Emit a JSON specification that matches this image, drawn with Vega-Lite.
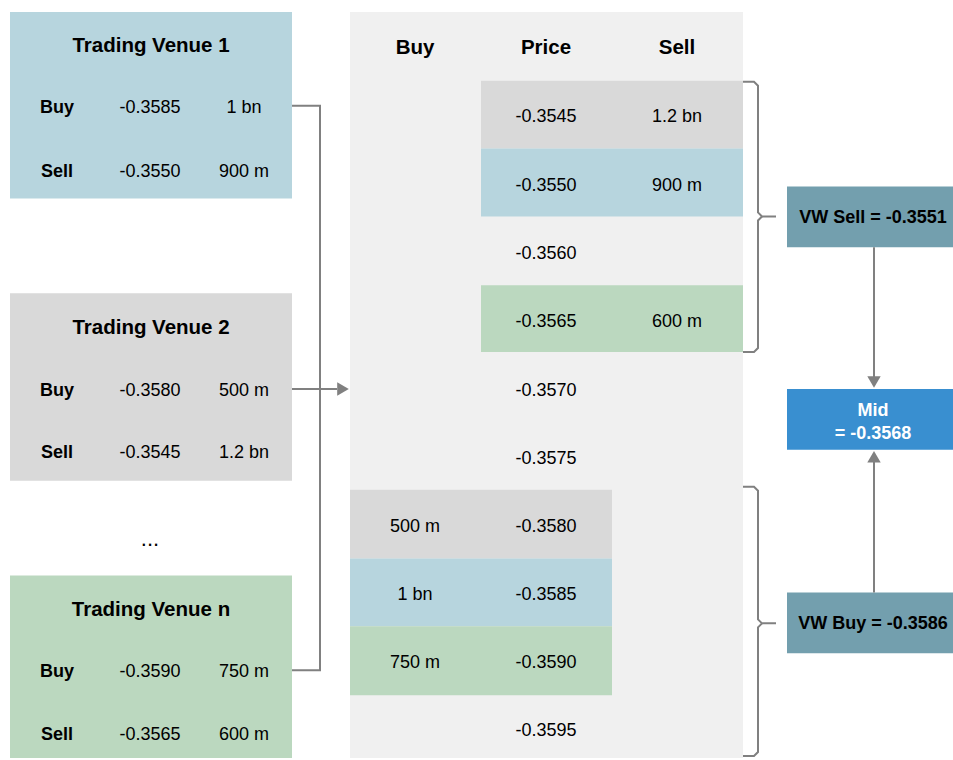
{
  "$schema": "https://vega.github.io/schema/vega-lite/v6.json",
  "width": 953,
  "height": 760,
  "padding": 0,
  "autosize": {"type": "fit", "contains": "padding"},
  "background": "white",
  "config": {"view": {"stroke": null}},
  "datasets": {
    "boxes": [
      {"x": 10, "x2": 292, "y": 12, "y2": 199, "c": "venue1"},
      {"x": 10, "x2": 292, "y": 294, "y2": 482, "c": "venue2"},
      {"x": 10, "x2": 292, "y": 577, "y2": 760, "c": "venuen"},
      {"x": 350, "x2": 743, "y": 12, "y2": 760, "c": "book"},
      {"x": 481, "x2": 743, "y": 81, "y2": 149, "c": "venue2"},
      {"x": 481, "x2": 743, "y": 149, "y2": 217, "c": "venue1"},
      {"x": 481, "x2": 743, "y": 286, "y2": 353, "c": "venuen"},
      {"x": 350, "x2": 612, "y": 491, "y2": 560, "c": "venue2"},
      {"x": 350, "x2": 612, "y": 560, "y2": 628, "c": "venue1"},
      {"x": 350, "x2": 612, "y": 628, "y2": 697, "c": "venuen"},
      {"x": 787, "x2": 953, "y": 187, "y2": 248, "c": "vw"},
      {"x": 787, "x2": 953, "y": 390, "y2": 451, "c": "mid"},
      {"x": 787, "x2": 953, "y": 594, "y2": 655, "c": "vw"}
    ],
    "paths": [
      {"p": "collect", "s": 1, "x": 292, "y": 106},
      {"p": "collect", "s": 2, "x": 320, "y": 106},
      {"p": "collect", "s": 3, "x": 320, "y": 672},
      {"p": "collect", "s": 4, "x": 292, "y": 672},
      {"p": "feed", "s": 1, "x": 292, "y": 390},
      {"p": "feed", "s": 2, "x": 337, "y": 390},
      {"p": "sellA", "s": 1, "x": 743, "y": 82},
      {"p": "sellA", "s": 2, "x": 754, "y": 82},
      {"p": "sellA", "s": 3, "x": 758, "y": 86},
      {"p": "sellA", "s": 4, "x": 758, "y": 213},
      {"p": "sellA", "s": 5, "x": 762, "y": 217},
      {"p": "sellA", "s": 6, "x": 776, "y": 217},
      {"p": "sellB", "s": 1, "x": 762, "y": 217},
      {"p": "sellB", "s": 2, "x": 758, "y": 221},
      {"p": "sellB", "s": 3, "x": 758, "y": 349},
      {"p": "sellB", "s": 4, "x": 754, "y": 353},
      {"p": "sellB", "s": 5, "x": 743, "y": 353},
      {"p": "buyA", "s": 1, "x": 743, "y": 488},
      {"p": "buyA", "s": 2, "x": 754, "y": 488},
      {"p": "buyA", "s": 3, "x": 758, "y": 492},
      {"p": "buyA", "s": 4, "x": 758, "y": 621},
      {"p": "buyA", "s": 5, "x": 762, "y": 625},
      {"p": "buyA", "s": 6, "x": 776, "y": 625},
      {"p": "buyB", "s": 1, "x": 762, "y": 625},
      {"p": "buyB", "s": 2, "x": 758, "y": 629},
      {"p": "buyB", "s": 3, "x": 758, "y": 754},
      {"p": "buyB", "s": 4, "x": 754, "y": 758},
      {"p": "buyB", "s": 5, "x": 743, "y": 758},
      {"p": "down", "s": 1, "x": 874, "y": 248},
      {"p": "down", "s": 2, "x": 874, "y": 378},
      {"p": "up", "s": 1, "x": 874, "y": 594},
      {"p": "up", "s": 2, "x": 874, "y": 463}
    ],
    "heads": [
      {"x": 343, "y": 390, "dir": "right"},
      {"x": 874, "y": 383, "dir": "down"},
      {"x": 874, "y": 458, "dir": "up"}
    ],
    "texts": [
      {"x": 151, "y": 44, "t": "Trading Venue 1", "k": "title"},
      {"x": 151, "y": 327, "t": "Trading Venue 2", "k": "title"},
      {"x": 151, "y": 610, "t": "Trading Venue n", "k": "title"},
      {"x": 415, "y": 46, "t": "Buy", "k": "title"},
      {"x": 546, "y": 46, "t": "Price", "k": "title"},
      {"x": 677, "y": 46, "t": "Sell", "k": "title"},
      {"x": 57, "y": 106, "t": "Buy", "k": "label"},
      {"x": 57, "y": 170, "t": "Sell", "k": "label"},
      {"x": 57, "y": 390, "t": "Buy", "k": "label"},
      {"x": 57, "y": 452, "t": "Sell", "k": "label"},
      {"x": 57, "y": 672, "t": "Buy", "k": "label"},
      {"x": 57, "y": 735, "t": "Sell", "k": "label"},
      {"x": 873, "y": 217, "t": "VW Sell = -0.3551", "k": "label"},
      {"x": 873, "y": 624, "t": "VW Buy = -0.3586", "k": "label"},
      {"x": 873, "y": 410, "t": "Mid", "k": "mid"},
      {"x": 873, "y": 433, "t": "= -0.3568", "k": "mid"},
      {"x": 150, "y": 538, "t": "...", "k": "dots"},
      {"x": 150, "y": 106, "t": "-0.3585", "k": "value"},
      {"x": 244, "y": 106, "t": "1 bn", "k": "value"},
      {"x": 150, "y": 170, "t": "-0.3550", "k": "value"},
      {"x": 244, "y": 170, "t": "900 m", "k": "value"},
      {"x": 150, "y": 390, "t": "-0.3580", "k": "value"},
      {"x": 244, "y": 390, "t": "500 m", "k": "value"},
      {"x": 150, "y": 452, "t": "-0.3545", "k": "value"},
      {"x": 244, "y": 452, "t": "1.2 bn", "k": "value"},
      {"x": 150, "y": 672, "t": "-0.3590", "k": "value"},
      {"x": 244, "y": 672, "t": "750 m", "k": "value"},
      {"x": 150, "y": 735, "t": "-0.3565", "k": "value"},
      {"x": 244, "y": 735, "t": "600 m", "k": "value"},
      {"x": 546, "y": 115, "t": "-0.3545", "k": "value"},
      {"x": 677, "y": 115, "t": "1.2 bn", "k": "value"},
      {"x": 546, "y": 184, "t": "-0.3550", "k": "value"},
      {"x": 677, "y": 184, "t": "900 m", "k": "value"},
      {"x": 546, "y": 253, "t": "-0.3560", "k": "value"},
      {"x": 546, "y": 321, "t": "-0.3565", "k": "value"},
      {"x": 677, "y": 321, "t": "600 m", "k": "value"},
      {"x": 546, "y": 390, "t": "-0.3570", "k": "value"},
      {"x": 546, "y": 458, "t": "-0.3575", "k": "value"},
      {"x": 415, "y": 526, "t": "500 m", "k": "value"},
      {"x": 546, "y": 526, "t": "-0.3580", "k": "value"},
      {"x": 415, "y": 595, "t": "1 bn", "k": "value"},
      {"x": 546, "y": 595, "t": "-0.3585", "k": "value"},
      {"x": 415, "y": 663, "t": "750 m", "k": "value"},
      {"x": 546, "y": 663, "t": "-0.3590", "k": "value"},
      {"x": 546, "y": 731, "t": "-0.3595", "k": "value"}
    ]
  },
  "layer": [
    {
      "data": {"name": "boxes"},
      "mark": {"type": "rect"},
      "encoding": {
        "x": {"field": "x", "type": "quantitative", "scale": {"domain": [0, 953], "nice": false}, "axis": null},
        "x2": {"field": "x2"},
        "y": {"field": "y", "type": "quantitative", "scale": {"domain": [0, 760], "nice": false, "reverse": true}, "axis": null},
        "y2": {"field": "y2"},
        "fill": {
          "field": "c", "type": "nominal", "legend": null,
          "scale": {"domain": ["venue1", "venue2", "venuen", "book", "vw", "mid"], "range": ["#b7d5de", "#d9d9d9", "#bbd8bf", "#f0f0f0", "#739fae", "#398fd0"]}
        }
      }
    },
    {
      "data": {"name": "paths"},
      "mark": {"type": "line", "color": "#808080", "strokeWidth": 2},
      "encoding": {
        "x": {"field": "x", "type": "quantitative", "scale": {"domain": [0, 953], "nice": false}, "axis": null},
        "y": {"field": "y", "type": "quantitative", "scale": {"domain": [0, 760], "nice": false, "reverse": true}, "axis": null},
        "detail": {"field": "p", "type": "nominal"},
        "order": {"field": "s", "type": "quantitative"}
      }
    },
    {
      "data": {"name": "heads"},
      "mark": {"type": "point", "filled": true, "color": "#808080", "opacity": 1, "size": 180},
      "encoding": {
        "x": {"field": "x", "type": "quantitative", "scale": {"domain": [0, 953], "nice": false}, "axis": null},
        "y": {"field": "y", "type": "quantitative", "scale": {"domain": [0, 760], "nice": false, "reverse": true}, "axis": null},
        "shape": {"field": "dir", "type": "nominal", "legend": null, "scale": {"domain": ["right", "down", "up"], "range": ["triangle-right", "triangle-down", "triangle-up"]}}
      }
    },
    {
      "data": {"name": "texts"},
      "transform": [{"filter": "datum.k == 'value'"}],
      "mark": {"type": "text", "font": "Liberation Sans", "fontSize": 18, "color": "#000000", "baseline": "middle", "align": "center", "dy": 2},
      "encoding": {
        "x": {"field": "x", "type": "quantitative", "scale": {"domain": [0, 953], "nice": false}, "axis": null},
        "y": {"field": "y", "type": "quantitative", "scale": {"domain": [0, 760], "nice": false, "reverse": true}, "axis": null},
        "text": {"field": "t"}
      }
    },
    {
      "data": {"name": "texts"},
      "transform": [{"filter": "datum.k == 'label'"}],
      "mark": {"type": "text", "font": "Liberation Sans", "fontSize": 18, "fontWeight": "bold", "color": "#000000", "baseline": "middle", "align": "center", "dy": 2},
      "encoding": {
        "x": {"field": "x", "type": "quantitative", "scale": {"domain": [0, 953], "nice": false}, "axis": null},
        "y": {"field": "y", "type": "quantitative", "scale": {"domain": [0, 760], "nice": false, "reverse": true}, "axis": null},
        "text": {"field": "t"}
      }
    },
    {
      "data": {"name": "texts"},
      "transform": [{"filter": "datum.k == 'title'"}],
      "mark": {"type": "text", "font": "Liberation Sans", "fontSize": 20.5, "fontWeight": "bold", "color": "#000000", "baseline": "middle", "align": "center", "dy": 2},
      "encoding": {
        "x": {"field": "x", "type": "quantitative", "scale": {"domain": [0, 953], "nice": false}, "axis": null},
        "y": {"field": "y", "type": "quantitative", "scale": {"domain": [0, 760], "nice": false, "reverse": true}, "axis": null},
        "text": {"field": "t"}
      }
    },
    {
      "data": {"name": "texts"},
      "transform": [{"filter": "datum.k == 'mid'"}],
      "mark": {"type": "text", "font": "Liberation Sans", "fontSize": 18, "fontWeight": "bold", "color": "#ffffff", "baseline": "middle", "align": "center", "dy": 2},
      "encoding": {
        "x": {"field": "x", "type": "quantitative", "scale": {"domain": [0, 953], "nice": false}, "axis": null},
        "y": {"field": "y", "type": "quantitative", "scale": {"domain": [0, 760], "nice": false, "reverse": true}, "axis": null},
        "text": {"field": "t"}
      }
    },
    {
      "data": {"name": "texts"},
      "transform": [{"filter": "datum.k == 'dots'"}],
      "mark": {"type": "text", "font": "Liberation Sans", "fontSize": 22, "color": "#000000", "baseline": "middle", "align": "center", "dy": 2},
      "encoding": {
        "x": {"field": "x", "type": "quantitative", "scale": {"domain": [0, 953], "nice": false}, "axis": null},
        "y": {"field": "y", "type": "quantitative", "scale": {"domain": [0, 760], "nice": false, "reverse": true}, "axis": null},
        "text": {"field": "t"}
      }
    }
  ]
}
